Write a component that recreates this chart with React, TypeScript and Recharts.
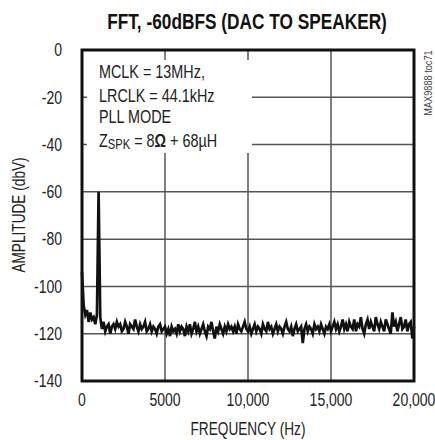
import React from 'react';
import { LineChart, Line, XAxis, YAxis, CartesianGrid, ReferenceArea } from 'recharts';

// FFT amplitude (dBV) sampled every 100 Hz from 0 Hz to 20 kHz
const amplitudeDbV = [
  -94,
  -108, -112, -110, -115, -111, -114, -113, -116, -112,
  -60,
  -113, -118, -115, -119, -117, -116, -120, -117, -116, -118,
  -115, -117, -116, -119, -118, -115, -117, -120, -116, -117,
  -118, -114, -117, -119, -116, -118, -117, -115, -119, -118,
  -116, -119, -117, -118, -120, -117, -116, -119, -118, -117,
  -120, -118, -121, -117, -119, -118, -120, -116, -119, -117,
  -118, -121, -117, -119, -116, -120, -118, -115, -119, -117,
  -120, -118, -116, -119, -121, -117, -118, -115, -119, -122,
  -117, -119, -116, -118, -120, -117, -119, -116, -118, -117,
  -119, -117, -120, -116, -118, -119, -117, -115, -118, -119,
  -117, -120, -118, -116, -119, -117, -118, -120, -116, -118,
  -119, -115, -118, -117, -120, -118, -116, -119, -117, -118,
  -120, -117, -115, -118, -119, -117, -121, -118, -116, -119,
  -118, -117, -124, -118, -116, -119, -117, -118, -120, -116,
  -118, -117, -119, -116, -118, -120, -117, -118, -116, -119,
  -117, -115, -118, -116, -119, -117, -114, -118, -116, -119,
  -115, -117, -118, -114, -119, -116, -117, -113, -118, -120,
  -116, -114, -118, -115, -117, -119, -113, -116, -118, -115,
  -117, -119, -114, -116, -118, -120, -111, -117, -115, -119,
  -116, -113, -118, -117, -114, -119, -116, -115, -122, -117,
];
const freqStepHz = 100;

const xTicks = [0, 5000, 10000, 15000, 20000];
const xTickLabels = ['0', '5000', '10,000', '15,000', '20,000'];
const yTicks = [0, -20, -40, -60, -80, -100, -120, -140];

const titleText = 'FFT, -60dBFS (DAC TO SPEAKER)';
const xLabelText = 'FREQUENCY (Hz)';
const yLabelText = 'AMPLITUDE (dbV)';
const sideText = 'MAX9888 toc71';
const annotationLines = ['MCLK = 13MHz,', 'LRCLK = 44.1kHz', 'PLL MODE'];

const data = amplitudeDbV.map((a, i) => ({ f: i * freqStepHz, a }));

const FONT = '"Liberation Sans", Arial, sans-serif';
const TEXT = '#222';
const SX = 0.8;
const FS = 17.5;

const XTick = (props: any) => {
  const { x, y, payload } = props;
  const label = xTickLabels[xTicks.indexOf(payload.value)];
  return (
    <text transform={`translate(${x},${y}) scale(${SX},1)`} textAnchor="middle" dy="0.71em" fontFamily={FONT} fontSize={FS} fill={TEXT}>
      {label}
    </text>
  );
};

const YTick = (props: any) => {
  const { x, y, payload } = props;
  return (
    <text transform={`translate(${x},${y}) scale(${SX},1)`} textAnchor="end" dy="0.355em" fontFamily={FONT} fontSize={FS} fill={TEXT}>
      {String(payload.value)}
    </text>
  );
};

const annotationBaselines = [78, 102, 123];

export default function App() {
  return (
    <div style={{ position: 'absolute', left: 0, top: 0, width: 435, height: 440, background: '#fff', overflow: 'hidden' }}>
      <LineChart width={435} height={440} data={data} margin={{ top: 50, right: 21, bottom: 29, left: 22 }}>
        <CartesianGrid stroke="#555" strokeWidth={1.5} />
        <XAxis
          dataKey="f"
          type="number"
          domain={[0, 20000]}
          ticks={xTicks}
          interval={0}
          tickLine={false}
          axisLine={false}
          height={30}
          tickMargin={7}
          tick={<XTick />}
        />
        <YAxis
          type="number"
          domain={[-140, 0]}
          ticks={yTicks}
          interval={0}
          tickLine={false}
          axisLine={false}
          width={60}
          tickMargin={14}
          tick={<YTick />}
        />
        <Line dataKey="a" stroke="#111" strokeWidth={2.7} dot={false} isAnimationActive={false} type="linear" />
        <ReferenceArea x1={0} x2={20000} y1={-140} y2={0} fill="none" stroke="#111" strokeWidth={3} fillOpacity={0} />
      </LineChart>
      <svg width={435} height={440} style={{ position: 'absolute', left: 0, top: 0, pointerEvents: 'none' }}>
        <text transform="translate(247,29) scale(0.785,1)" textAnchor="middle" fontFamily={FONT} fontWeight="bold" fontSize={22} fill="#111">{titleText}</text>
        <rect x={87} y={60} width={165} height={93} fill="#fff" />
        {annotationLines.map((t, i) => (
          <text key={t} transform={`translate(99,${annotationBaselines[i]}) scale(${SX},1)`} fontFamily={FONT} fontSize={18} fill={TEXT}>{t}</text>
        ))}
        <text transform={`translate(99,147) scale(${SX},1)`} fontFamily={FONT} fontSize={18} fill={TEXT}>
          Z<tspan fontSize={14} dy={2}>SPK</tspan><tspan dy={-2}> = 8</tspan><tspan fontWeight="bold">Ω</tspan><tspan> + 68µH</tspan>
        </text>
        <text transform="translate(248,435) scale(0.78,1)" textAnchor="middle" fontFamily={FONT} fontSize={FS} fill={TEXT}>{xLabelText}</text>
        <text transform="translate(25,215) rotate(-90) scale(0.78,1)" textAnchor="middle" fontFamily={FONT} fontSize={FS} fill={TEXT}>{yLabelText}</text>
        <text transform="translate(432,83) rotate(-90) scale(0.92,1)" textAnchor="middle" fontFamily={FONT} fontSize={10} fill="#444">{sideText}</text>
      </svg>
    </div>
  );
}
